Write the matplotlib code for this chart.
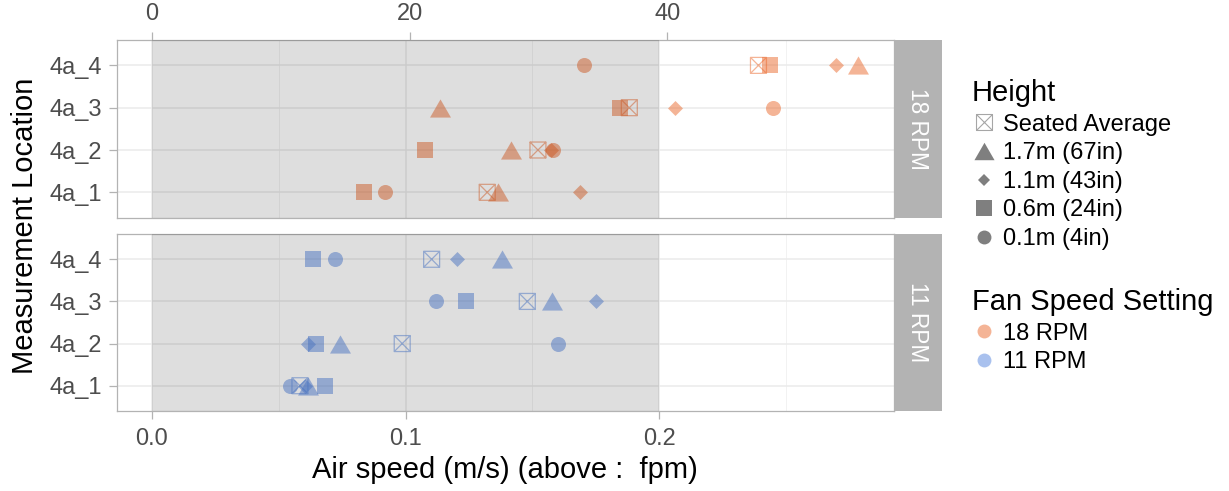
import matplotlib
matplotlib.use('Agg')
import matplotlib.pyplot as plt
from matplotlib.path import Path
from matplotlib.lines import Line2D

plt.rcParams['font.family'] = ['Liberation Sans', 'DejaVu Sans']

# data: air speed (m/s) per location 4a_1..4a_4
locations = ['4a_1', '4a_2', '4a_3', '4a_4']
height_labels = ['Seated Average', '1.7m (67in)', '1.1m (43in)', '0.6m (24in)', '0.1m (4in)']
fan_labels = ['18 RPM', '11 RPM']

rpm18_seated = [0.1322, 0.1522, 0.1882, 0.2391]
rpm18_h170 = [0.1365, 0.1417, 0.1136, 0.2785]
rpm18_h110 = [0.1688, 0.1572, 0.2062, 0.2695]
rpm18_h060 = [0.0838, 0.1075, 0.1844, 0.2438]
rpm18_h010 = [0.0921, 0.1582, 0.2448, 0.1702]

rpm11_seated = [0.0584, 0.0987, 0.1480, 0.1103]
rpm11_h170 = [0.0615, 0.0742, 0.1576, 0.1381]
rpm11_h110 = [0.0605, 0.0617, 0.1752, 0.1202]
rpm11_h060 = [0.0684, 0.0647, 0.1237, 0.0637]
rpm11_h010 = [0.0545, 0.1600, 0.1120, 0.0724]

x_ticks = [0.0, 0.1, 0.2]
fpm_ticks = [0, 20, 40]

col18 = '#EB6A2E'
col11 = '#5585DE'
alpha = 0.5

# marker shapes
seated_marker = Path(
    [(-1, -1), (1, -1), (1, 1), (-1, 1), (-1, -1), (-1, -1), (1, 1), (-1, 1), (1, -1)],
    [Path.MOVETO, Path.LINETO, Path.LINETO, Path.LINETO, Path.CLOSEPOLY,
     Path.MOVETO, Path.LINETO, Path.MOVETO, Path.LINETO])
tri_marker = Path([(-1, -0.866), (1, -0.866), (0, 0.866), (-1, -0.866)],
                  [Path.MOVETO, Path.LINETO, Path.LINETO, Path.CLOSEPOLY])

W, H = 1229, 491
fig = plt.figure(figsize=(W / 100, H / 100), dpi=100)


def fx(px):
    return px / W


def fy(py):
    return 1 - py / H


panel_l, panel_r = 117, 893.7
ax_top = fig.add_axes([fx(panel_l), fy(217.7), fx(panel_r - panel_l), 177.7 / H])
ax_bot = fig.add_axes([fx(panel_l), fy(411), fx(panel_r - panel_l), 177 / H])

grey_tick = '#B3B3B3'


def draw_panel(ax, seated, h170, h110, h060, h010, color):
    y = [1, 2, 3, 4]
    ax.scatter(seated, y, marker=seated_marker, s=132, facecolors='none',
               edgecolors=color, alpha=alpha, linewidths=0.9, zorder=3)
    ax.scatter(h170, y, marker=tri_marker, s=228, color=color, alpha=alpha, linewidths=0, zorder=3)
    ax.scatter(h110, y, marker='D', s=58, color=color, alpha=alpha, linewidths=0, zorder=3)
    ax.scatter(h060, y, marker='s', s=132, color=color, alpha=alpha, linewidths=0, zorder=3)
    ax.scatter(h010, y, marker='o', s=117, color=color, alpha=alpha, linewidths=0, zorder=3)

    # shaded region below 0.2 m/s
    ax.axvspan(0, 0.2, color='black', alpha=0.13, lw=0, zorder=4)

    ax.set_xlim(-0.0137, 0.2924)
    ax.set_ylim(0.4, 4.6)
    ax.set_yticks(y)
    ax.set_yticklabels(locations)
    ax.set_xticks(x_ticks)
    ax.set_xticks([0.05, 0.15, 0.25], minor=True)
    ax.grid(which='major', color='#EBEBEB', lw=1.1, zorder=0)
    ax.grid(which='minor', axis='x', color='#F0F0F0', lw=0.6, zorder=0)
    ax.set_axisbelow(True)
    for sp in ax.spines.values():
        sp.set_color(grey_tick)
        sp.set_linewidth(0.9)
    ax.tick_params(which='minor', length=0)
    ax.tick_params(which='major', colors=grey_tick, labelcolor='#4D4D4D',
                   labelsize=17, length=6, width=0.9)
    ax.tick_params(axis='y', pad=4.5)


draw_panel(ax_top, rpm18_seated, rpm18_h170, rpm18_h110, rpm18_h060, rpm18_h010, col18)
draw_panel(ax_bot, rpm11_seated, rpm11_h170, rpm11_h110, rpm11_h060, rpm11_h010, col11)

ax_top.tick_params(axis='x', which='both', bottom=False, labelbottom=False)
ax_bot.set_xticklabels([f'{t:.1f}' for t in x_ticks])
ax_bot.tick_params(axis='x', pad=6)

# top axis in fpm
sec = ax_top.secondary_xaxis('top', functions=(lambda v: v / 0.00508, lambda f: f * 0.00508))
sec.set_xticks(fpm_ticks)
sec.set_xticklabels([str(t) for t in fpm_ticks])
sec.tick_params(colors=grey_tick, labelcolor='#4D4D4D', labelsize=17, length=6, width=0.9, pad=5)
sec.spines['top'].set_visible(False)

# facet strips
for py0, py1, lab in [(40, 217.7, fan_labels[0]), (234, 411, fan_labels[1])]:
    sax = fig.add_axes([fx(panel_r), fy(py1), fx(48), (py1 - py0) / H])
    sax.set_facecolor('#B3B3B3')
    sax.set_xticks([])
    sax.set_yticks([])
    for sp in sax.spines.values():
        sp.set_visible(False)
    sax.text(0.5, 0.5, lab, rotation=-90, color='white', fontsize=16.3,
             ha='center', va='center', transform=sax.transAxes)

# axis titles
fig.text(fx(25), fy(225.5), 'Measurement Location', rotation=90, fontsize=21,
         ha='center', va='center')
fig.text(fx(505), fy(470), 'Air speed (m/s) (above :  fpm)', fontsize=21,
         ha='center', va='center')

# legends
key = dict(linestyle='none', color='black', alpha=0.5, markeredgewidth=0)
height_handles = [
    Line2D([], [], marker=seated_marker, markersize=11.5, linestyle='none',
           color='black', alpha=0.35, markerfacecolor='none', markeredgewidth=0.8),
    Line2D([], [], marker=tri_marker, markersize=14.5, **key),
    Line2D([], [], marker='D', markersize=6.6, **key),
    Line2D([], [], marker='s', markersize=11.0, **key),
    Line2D([], [], marker='o', markersize=10.0, **key),
]
leg1 = fig.legend(height_handles, height_labels, title='Height', loc='upper left',
                  bbox_to_anchor=(fx(972), fy(79)), frameon=False, fontsize=17,
                  title_fontsize=21, alignment='left', borderpad=0, borderaxespad=0,
                  handlelength=1.0, handletextpad=0.3, labelspacing=0.28)
fan_handles = [
    Line2D([], [], marker='o', markersize=10.0, linestyle='none', color=col18,
           alpha=alpha, markeredgewidth=0),
    Line2D([], [], marker='o', markersize=10.0, linestyle='none', color=col11,
           alpha=alpha, markeredgewidth=0),
]
leg2 = fig.legend(fan_handles, fan_labels, title='Fan Speed Setting', loc='upper left',
                  bbox_to_anchor=(fx(972), fy(288)), frameon=False, fontsize=17,
                  title_fontsize=21, alignment='left', borderpad=0, borderaxespad=0,
                  handlelength=1.0, handletextpad=0.3, labelspacing=0.28)

fig.savefig('out.png', dpi=100)
